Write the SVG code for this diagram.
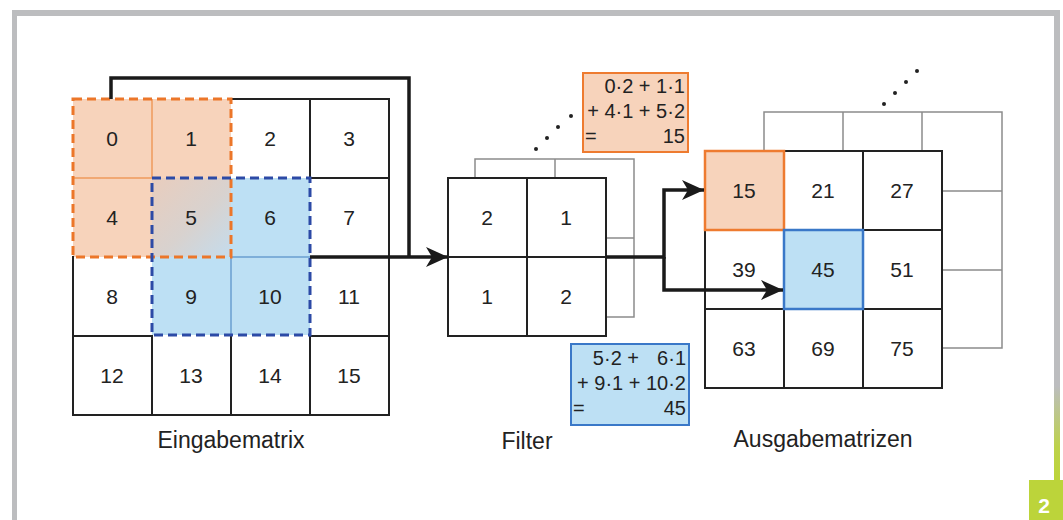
<svg xmlns="http://www.w3.org/2000/svg" width="1063" height="520" viewBox="0 0 1063 520">
  <defs>
    <style>
      text { font-family: "Liberation Sans", Arial, sans-serif; fill: #222; }
      .num { font-size: 21px; text-anchor: middle; }
      .frm { font-size: 20px; }
      .lbl { font-size: 23px; text-anchor: middle; }
      .grid { stroke: #222; stroke-width: 2; fill: none; stroke-linecap: square; }
      .back { stroke: #8c8c8c; stroke-width: 1.5; fill: none; }
      .odash { stroke: #ec7629; stroke-width: 3; stroke-dasharray: 9 5; fill: none; }
      .bdash { stroke: #2c4aa6; stroke-width: 3; stroke-dasharray: 9 5; fill: none; }
      .othin { stroke: #ef9a5c; stroke-width: 1.5; }
      .bthin { stroke: #6a9fd0; stroke-width: 1.5; }
      .conn { stroke: #1a1a1a; stroke-width: 3.5; fill: none; }
      .dot { fill: #222; }
    </style>
    <marker id="arrow" markerUnits="userSpaceOnUse" markerWidth="24" markerHeight="22" refX="22" refY="10" orient="auto">
      <path d="M0,0 L22,10 L0,20 L6,10 Z" fill="#1a1a1a"/>
    </marker>
    <linearGradient id="overlap" x1="0" y1="0" x2="1" y2="1">
      <stop offset="0" stop-color="#e9cdbd"/>
      <stop offset="0.55" stop-color="#d8d2cf"/>
      <stop offset="1" stop-color="#c4dced"/>
    </linearGradient>
    <linearGradient id="edge" x1="0" y1="0" x2="0" y2="1">
      <stop offset="0" stop-color="#bcbdbf"/>
      <stop offset="0.8" stop-color="#bcbdbf"/>
      <stop offset="0.93" stop-color="#bdd24a"/>
      <stop offset="1" stop-color="#bcd43a"/>
    </linearGradient>
  </defs>

  <!-- page frame -->
  <g id="frame">
    <rect x="0" y="0" width="1063" height="520" fill="#fff"/>
    <rect x="12" y="10" width="5" height="510" fill="#bcbdbf"/>
    <rect x="12" y="10" width="1048" height="6" fill="#bcbdbf"/>
    <rect x="1054" y="10" width="6" height="470" fill="url(#edge)"/>
  </g>

  <!-- input matrix 4x4 -->
  <g id="input-matrix">
    <rect x="73" y="99" width="158" height="158" fill="#f7d3bb"/>
    <rect x="152" y="178" width="158" height="157" fill="#bde0f4"/>
    <rect x="152" y="178" width="79" height="79" fill="url(#overlap)"/>
    <!-- black grid segments outside highlighted windows -->
    <path class="grid" d="M231,99 H389 M310,178 H389 M73,336 H152 M310,336 H389 M73,415 H389
                          M73,257 V415 M152,336 V415 M231,336 V415 M310,99 V178 M310,336 V415 M389,99 V415"/>
    <!-- inner lines of the windows -->
    <path class="othin" d="M73,178 H152 M152,99 V178"/>
    <path class="bthin" d="M231,257 V336 M231,257 H310"/>
    <!-- window outlines -->
    <rect class="odash" x="73" y="99" width="158" height="158"/>
    <rect class="bdash" x="152" y="178" width="158" height="157"/>
    <text class="num" x="112" y="146">0</text>
    <text class="num" x="191" y="146">1</text>
    <text class="num" x="270" y="146">2</text>
    <text class="num" x="349" y="146">3</text>
    <text class="num" x="112" y="225">4</text>
    <text class="num" x="191" y="225">5</text>
    <text class="num" x="270" y="225">6</text>
    <text class="num" x="349" y="225">7</text>
    <text class="num" x="112" y="304">8</text>
    <text class="num" x="191" y="304">9</text>
    <text class="num" x="270" y="304">10</text>
    <text class="num" x="349" y="304">11</text>
    <text class="num" x="112" y="383">12</text>
    <text class="num" x="191" y="383">13</text>
    <text class="num" x="270" y="383">14</text>
    <text class="num" x="349" y="383">15</text>
  </g>

  <!-- filter 2x2 with stacked copy behind -->
  <g id="filter">
    <path class="back" d="M475,178 V159 H634 V317 H606 M555,159 V178 M606,238 H634"/>
    <rect x="448" y="178" width="158" height="158" fill="#fff"/>
    <path class="grid" d="M448,178 H606 V336 H448 Z M527,178 V336 M448,257 H606"/>
    <text class="num" x="487" y="225">2</text>
    <text class="num" x="566" y="225">1</text>
    <text class="num" x="487" y="304">1</text>
    <text class="num" x="566" y="304">2</text>
    <circle class="dot" cx="536" cy="149" r="2"/>
    <circle class="dot" cx="547" cy="138" r="2"/>
    <circle class="dot" cx="558" cy="127" r="2"/>
    <circle class="dot" cx="571" cy="116" r="2"/>
  </g>

  <!-- output matrices 3x3 with stacked copy behind -->
  <g id="output-matrices">
    <path class="back" d="M764,151 V112 H1002 V348 H942 M843,112 V151 M922,112 V151 M942,191 H1002 M942,270 H1002"/>
    <rect x="705" y="151" width="237" height="237" fill="#fff"/>
    <rect x="705" y="151" width="79" height="79" fill="#f7d3bb"/>
    <rect x="784" y="230" width="79" height="79" fill="#bde0f4"/>
    <path class="grid" d="M705,151 H942 V388 H705 Z M784,151 V388 M863,151 V388 M705,230 H942 M705,309 H942"/>
    <rect x="705" y="151" width="79" height="79" fill="none" stroke="#ee7b30" stroke-width="2.5"/>
    <rect x="784" y="230" width="79" height="79" fill="none" stroke="#3a78c8" stroke-width="2.5"/>
    <text class="num" x="744" y="198">15</text>
    <text class="num" x="823" y="198">21</text>
    <text class="num" x="902" y="198">27</text>
    <text class="num" x="744" y="277">39</text>
    <text class="num" x="823" y="277">45</text>
    <text class="num" x="902" y="277">51</text>
    <text class="num" x="744" y="356">63</text>
    <text class="num" x="823" y="356">69</text>
    <text class="num" x="902" y="356">75</text>
    <circle class="dot" cx="884" cy="104" r="2"/>
    <circle class="dot" cx="895" cy="93" r="2"/>
    <circle class="dot" cx="906" cy="82" r="2"/>
    <circle class="dot" cx="917" cy="71" r="2"/>
  </g>

  <!-- worked sums -->
  <g id="sum-orange">
    <rect x="583" y="73" width="105" height="79" fill="#f7d3bb" stroke="#ee7b30" stroke-width="2"/>
    <text class="frm" x="685" y="93" text-anchor="end">0·2 + 1·1</text>
    <text class="frm" x="685" y="118" text-anchor="end">+ 4·1 + 5·2</text>
    <text class="frm" x="585" y="143">=</text>
    <text class="frm" x="685" y="143" text-anchor="end">15</text>
  </g>
  <g id="sum-blue">
    <rect x="571" y="344" width="118" height="81" fill="#bde0f4" stroke="#3a78c8" stroke-width="2"/>
    <text class="frm" x="639" y="365" text-anchor="end">5·2 +</text>
    <text class="frm" x="686" y="365" text-anchor="end">6·1</text>
    <text class="frm" x="686" y="390" text-anchor="end">+ 9·1 + 10·2</text>
    <text class="frm" x="573" y="415">=</text>
    <text class="frm" x="686" y="415" text-anchor="end">45</text>
  </g>

  <!-- connectors -->
  <g id="connectors">
    <path class="conn" d="M111,99 V78 H409 V257"/>
    <path class="conn" d="M310,257 H448" marker-end="url(#arrow)"/>
    <path class="conn" d="M606,257 H664 V190 H704" marker-end="url(#arrow)"/>
    <path class="conn" d="M664,257 V290 H783" marker-end="url(#arrow)"/>
  </g>

  <!-- captions -->
  <g id="labels">
    <text class="lbl" x="231" y="448">Eingabematrix</text>
    <text class="lbl" x="527" y="449">Filter</text>
    <text class="lbl" x="823" y="447">Ausgabematrizen</text>
  </g>

  <!-- figure number badge -->
  <g id="badge">
    <rect x="1029" y="480" width="34" height="40" fill="#bcd43a"/>
    <text x="1044" y="513" text-anchor="middle" style="font-size:21px;font-weight:bold;fill:#fff">2</text>
  </g>
</svg>
